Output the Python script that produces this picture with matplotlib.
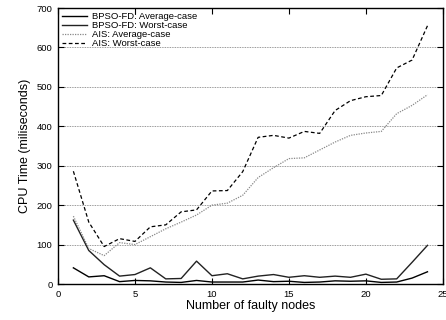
import matplotlib
matplotlib.use('Agg')
import matplotlib.pyplot as plt
import numpy as np

plt.rcParams['font.family'] = ['Liberation Sans', 'DejaVu Sans']

nodes = np.arange(1, 25)
bpso_avg = [41, 18, 21, 6, 9, 8, 5, 4, 9, 5, 5, 5, 10, 6, 7, 4, 5, 8, 7, 8, 4, 5, 15, 31]
bpso_worst = [162, 85, 49, 20, 24, 41, 13, 14, 58, 21, 26, 13, 20, 24, 17, 21, 17, 20, 17, 25, 12, 13, 55, 98]
ais_avg = [172, 90, 72, 105, 100, 120, 140, 157, 175, 200, 205, 225, 270, 295, 318, 320, 340, 360, 377, 383, 387, 432, 453, 480]
ais_worst = [286, 157, 95, 115, 108, 145, 150, 183, 188, 236, 237, 285, 372, 377, 370, 387, 382, 440, 465, 475, 478, 548, 568, 655]

fig = plt.figure(figsize=(4.46, 3.2), dpi=100)
ax = fig.add_axes([0.130, 0.1125, 0.863, 0.8625])

ax.plot(nodes, bpso_avg, color='black', lw=1.0, label='BPSO-FD: Average-case')
ax.plot(nodes, bpso_worst, color='#222222', lw=1.0, label='BPSO-FD: Worst-case')
ax.plot(nodes, ais_avg, color='#888888', lw=0.9, ls=(0, (1, 1)), label='AIS: Average-case')
ax.plot(nodes, ais_worst, color='black', lw=0.9, ls=(0, (3, 2)), label='AIS: Worst-case')

ax.set_xlim(0, 25)
ax.set_ylim(0, 700)
ax.set_xticks([0, 5, 10, 15, 20, 25])
ax.set_yticks(range(0, 701, 100))
ax.tick_params(direction='in', top=True, right=True, length=4, width=0.8, labelsize=6.8, pad=4)
ax.yaxis.grid(True, color='#777777', ls=(0, (1, 1)), lw=0.6)
for s in ax.spines.values():
    s.set_linewidth(1.0)

ax.set_xlabel('Number of faulty nodes', fontsize=9, labelpad=1)
ax.set_ylabel('CPU Time (miliseconds)', fontsize=9, labelpad=4)

ax.legend(loc='upper left', frameon=False, fontsize=6.8,
          handlelength=2.6, handletextpad=0.6, labelspacing=0.0, borderaxespad=0.15, borderpad=0.3)

fig.savefig('out.png', dpi=100)
